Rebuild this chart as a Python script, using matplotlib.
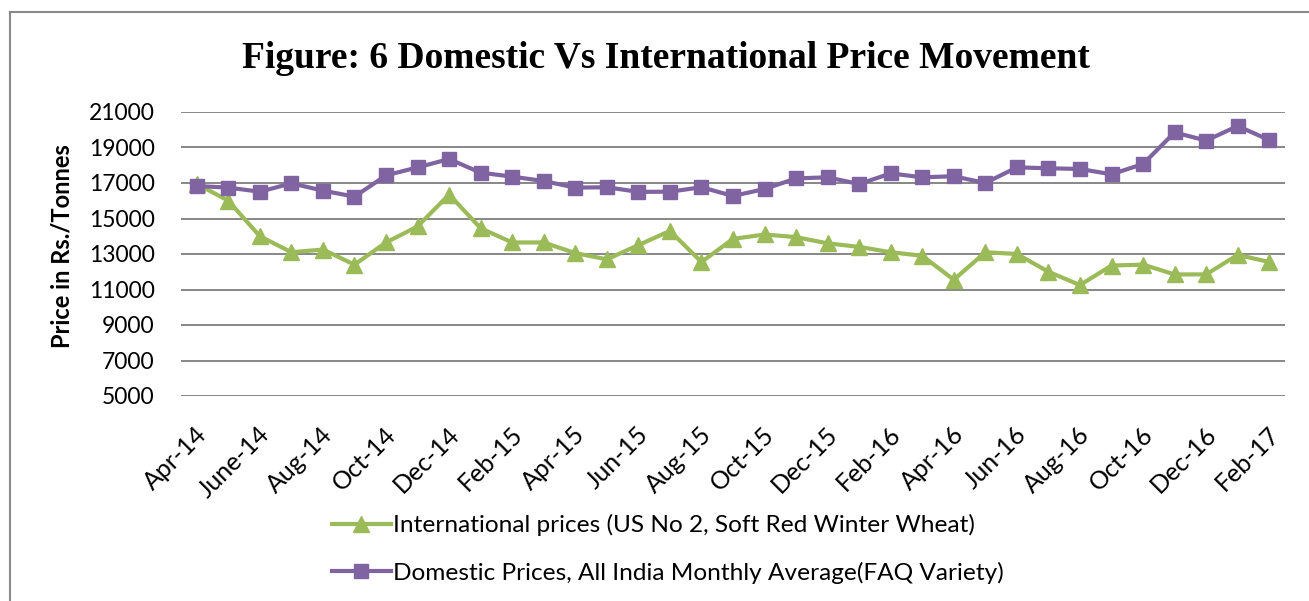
"""
Figure 6 — Domestic vs International wheat price movement (Apr-14 .. Feb-17)
"""

import numpy as np
import matplotlib
matplotlib.use('Agg')
import matplotlib.pyplot as plt
import matplotlib.transforms as mtransforms
from matplotlib.lines import Line2D

# 月度数据 Apr-14 .. Feb-17 (35 个月)
months = ['Apr-14', 'May-14', 'June-14', 'Jul-14', 'Aug-14', 'Sep-14', 'Oct-14', 'Nov-14',
          'Dec-14', 'Jan-15', 'Feb-15', 'Mar-15', 'Apr-15', 'May-15', 'Jun-15', 'Jul-15',
          'Aug-15', 'Sep-15', 'Oct-15', 'Nov-15', 'Dec-15', 'Jan-16', 'Feb-16', 'Mar-16',
          'Apr-16', 'May-16', 'Jun-16', 'Jul-16', 'Aug-16', 'Sep-16', 'Oct-16', 'Nov-16',
          'Dec-16', 'Jan-17', 'Feb-17']

international = [16950, 16000, 14000, 13100, 13250, 12400, 13650, 14550, 16350, 14450,
                 13650, 13650, 13050, 12700, 13500, 14300, 12550, 13850, 14100, 13950,
                 13600, 13400, 13100, 12900, 11550, 13100, 13000, 12000, 11250, 12350,
                 12400, 11850, 11850, 12950, 12550]

domestic = [16830, 16740, 16510, 16980, 16570, 16230, 17430, 17880, 18350, 17580,
            17360, 17110, 16740, 16760, 16500, 16510, 16760, 16270, 16660, 17260,
            17320, 16940, 17540, 17320, 17380, 17000, 17880, 17830, 17790, 17490,
            18070, 19850, 19390, 20210, 19420]

y_ticks = [5000, 7000, 9000, 11000, 13000, 15000, 17000, 19000, 21000]

title = 'Figure: 6 Domestic Vs International Price Movement'
label_intl = 'International prices (US No 2, Soft Red Winter Wheat)'
label_dom = 'Domestic Prices, All India Monthly Average(FAQ Variety)'

GREEN = '#9BBB59'
PURPLE = '#8064A2'
GRID = '#878787'

plt.rcParams['font.family'] = ['Lato', 'DejaVu Sans']

W, H = 1309, 601
fig = plt.figure(figsize=(W / 100, H / 100), dpi=100)
ax = fig.add_axes([181 / W, 1 - 396 / H, (1285 - 181) / W, (396 - 112) / H])

x = np.arange(len(months))
ax.plot(x, international, color=GREEN, lw=3, marker='^', ms=12,
        label=label_intl, zorder=3)
ax.plot(x, domestic, color=PURPLE, lw=3, marker='s', ms=10.5,
        label=label_dom, zorder=4)

ax.set_xlim(-0.5, len(months) - 0.5)
ax.set_ylim(5000, 21000)
ax.set_yticks(y_ticks)
ax.set_yticklabels([str(v) for v in y_ticks])
ax.yaxis.grid(True, color=GRID, lw=1.4)
ax.set_axisbelow(True)
for s in ax.spines.values():
    s.set_visible(False)

# 每两个月一个刻度
ax.set_xticks(x[::2])
ax.set_xticklabels(months[::2], rotation=45, ha='right', rotation_mode='anchor')
ax.tick_params(axis='y', length=0, labelsize=16.5, pad=19)
ax.tick_params(axis='x', length=0, labelsize=18, pad=19)
offset = mtransforms.ScaledTranslation(-2 / 100, 0, fig.dpi_scale_trans)
for lbl in ax.get_xticklabels():
    lbl.set_transform(lbl.get_transform() + offset)

fig.text(62 / W, 1 - 246 / H, 'Price in Rs./Tonnes', rotation=90,
         ha='center', va='center', fontsize=17, fontweight='bold')

fig.text(666 / W, 1 - 68 / H, title, ha='center', va='baseline',
         fontsize=27, fontweight='bold', family='Liberation Serif')

fig.legend(loc='upper left', bbox_to_anchor=(332 / W, 1 - 514 / H),
           frameon=False, ncol=1, fontsize=17.6, handlelength=2.4,
           handletextpad=0.1, labelspacing=1.05, borderaxespad=0, borderpad=0)

# 图表外框 (只露出上边和左边)
fig.add_artist(Line2D([10 / W, 1], [1 - 12 / H, 1 - 12 / H], color='#8a8a8a', lw=1.5))
fig.add_artist(Line2D([10 / W, 10 / W], [0, 1 - 12 / H], color='#8a8a8a', lw=1.5))

fig.savefig('out.png', dpi=100)
